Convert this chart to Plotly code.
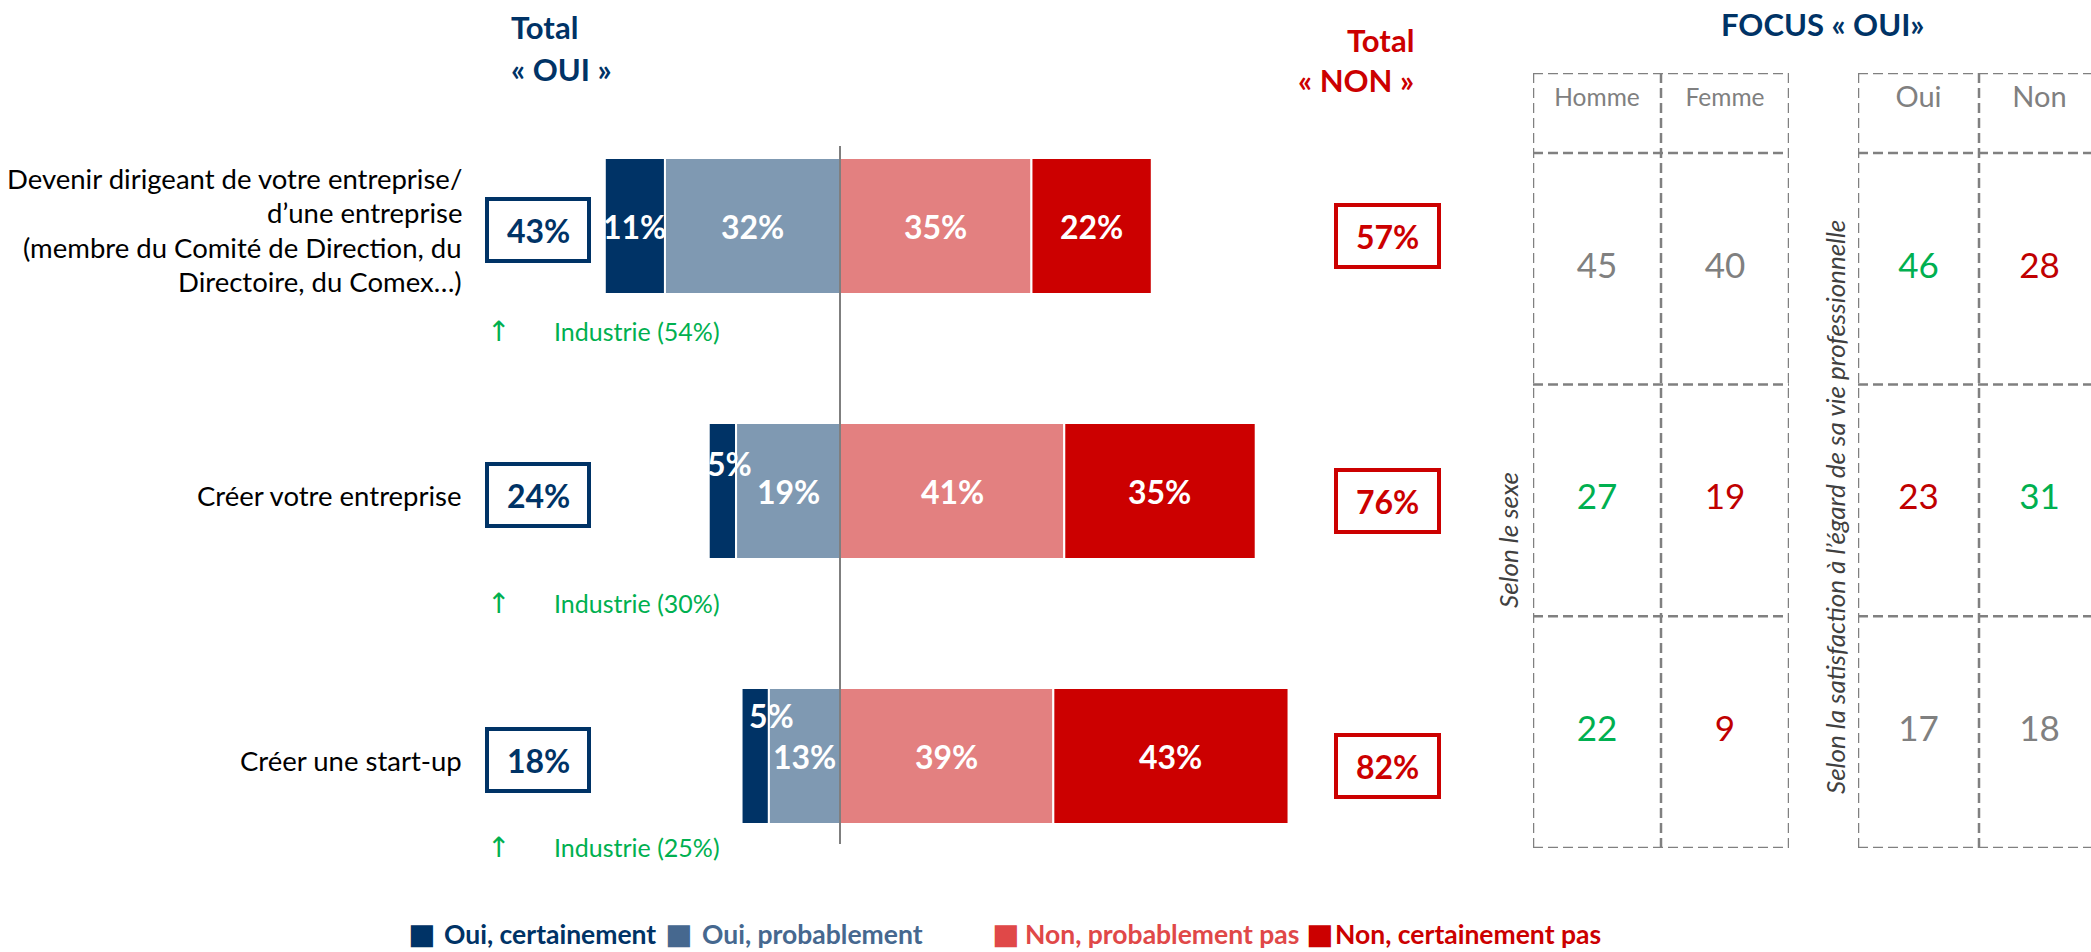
"""Diverging stacked bars (OUI / NON) with a FOCUS « OUI» side table."""

import plotly.graph_objects as go

# ---- data -----------------------------------------------------------------
ITEMS = [
    "Devenir dirigeant de votre entreprise/<br>d’une entreprise<br>"
    "(membre du Comité de Direction, du<br>Directoire, du Comex…)",
    "Créer votre entreprise",
    "Créer une start-up",
]
SERIES = ["Oui, certainement", "Oui, probablement",
          "Non, probablement pas", "Non, certainement pas"]
OUI_CERT = [11, 5, 5]
OUI_PROB = [32, 19, 13]
NON_PROB = [35, 41, 39]
NON_CERT = [22, 35, 43]
INDUSTRIE = [54, 30, 25]

SEXE_COLS = ["Homme", "Femme"]
SEXE_VALUES = [[45, 40], [27, 19], [22, 9]]
SEXE_SIG = [[0, 0], [1, -1], [1, -1]]          # +1 higher, -1 lower, 0 n.s.
SATIS_COLS = ["Oui", "Non"]
SATIS_VALUES = [[46, 28], [23, 31], [17, 18]]
SATIS_SIG = [[1, -1], [-1, 1], [0, 0]]

# ---- styling / layout constants ---------------------------------------------
W, H = 2091, 952
FONT = "Lato"
NAVY, GREYBLUE, PINK, RED = "#003366", "#7F99B2", "#E38080", "#CC0000"
LEG_COLORS = ["#003366", "#46688F", "#E04848", "#CC0000"]
GREEN, SIG_RED, GREY = "#00B050", "#C00000", "#808080"
SIG_COLOR = {1: GREEN, -1: SIG_RED, 0: GREY}

ZERO_PX, PX_PER_PCT = 840, 5.47
ROW0_PX, ROW_STEP = 226, 265
BAR_W = 136 / ROW_STEP


def px(xp):
    return xp / W


def py(yp):
    return 1 - yp / H


def row_y(i, dy_px=0):
    return i + dy_px / ROW_STEP


def pct_x(xp):
    return (xp - ZERO_PX) / PX_PER_PCT


def note(x, y, text, size, color, xanchor="center", family=FONT, **kw):
    """Paper-anchored annotation placed by pixel position."""
    return dict(x=px(x), y=py(y), xref="paper", yref="paper",
                xanchor=xanchor, yanchor="middle", text=text, showarrow=False,
                font={"family": family, "size": size, "color": color}, **kw)


rows = list(range(len(ITEMS)))
fig = go.Figure()

# Stacked diverging bars: OUI to the left of zero, NON to the right.
oui_tot = [c + p for c, p in zip(OUI_CERT, OUI_PROB)]
non_tot = [p + c for p, c in zip(NON_PROB, NON_CERT)]
segments = [
    (SERIES[0], NAVY, OUI_CERT, [-t for t in oui_tot]),
    (SERIES[1], GREYBLUE, OUI_PROB, [-p for p in OUI_PROB]),
    (SERIES[2], PINK, NON_PROB, [0] * len(rows)),
    (SERIES[3], RED, NON_CERT, NON_PROB),
]
for name, color, vals, base in segments:
    fig.add_trace(go.Bar(
        y=rows, x=vals, base=base, orientation="h", name=name, width=BAR_W,
        marker={"color": color, "line": {"color": "white", "width": 2}},
        hoverinfo="skip",
    ))

annotations = []
shapes = []

# Segment labels; the two thin "5%" segments get nudged up like the original.
nudge = {(0, 1): (7, 28), (0, 2): (16, 41)}
for s, (name, color, vals, base) in enumerate(segments):
    for i in rows:
        dx, dy = nudge.get((s, i), (0, 0))
        annotations.append(dict(
            x=base[i] + vals[i] / 2, y=i, xref="x", yref="y",
            xanchor="center", yanchor="middle",
            text=f"<b>{vals[i]}%</b>", showarrow=False, xshift=dx, yshift=dy,
            font={"family": FONT, "size": 32, "color": "white"},
        ))

# Zero line.
shapes.append(dict(type="line", xref="x", yref="y", x0=0, x1=0,
                   y0=row_y(0, -80), y1=row_y(2, 88),
                   line={"color": "#7F7F7F", "width": 2}))

# Total boxes.
for i in rows:
    for tot, color, (x0, x1), dy in (
        (oui_tot[i], NAVY, (487, 589), 4),
        (non_tot[i], RED, (1336, 1439), 10),
    ):
        shapes.append(dict(type="rect", xref="x", yref="y",
                           x0=pct_x(x0), x1=pct_x(x1),
                           y0=row_y(i, dy - 31), y1=row_y(i, dy + 31),
                           line={"color": color, "width": 4},
                           fillcolor="white"))
        annotations.append(dict(
            x=pct_x((x0 + x1) / 2), y=row_y(i, dy), xref="x", yref="y",
            xanchor="center", yanchor="middle",
            text=f"<b>{tot}%</b>", showarrow=False,
            font={"family": FONT, "size": 32, "color": color},
        ))

# Row labels, right-aligned, one annotation per line.
for i, label in enumerate(ITEMS):
    lines = label.split("<br>")
    for k, line in enumerate(lines):
        off = (k - (len(lines) - 1) / 2) * 34.5
        annotations.append(note(464, ROW0_PX + i * ROW_STEP + 4 + off, line,
                                27.5, "black", xanchor="right"))

# "Industrie" callouts under each bar.
INDUS_Y_PX = [331, 603, 847]
for i, v in enumerate(INDUSTRIE):
    annotations.append(note(498, INDUS_Y_PX[i], "↑", 28, GREEN,
                            family="DejaVu Sans"))
    annotations.append(note(552, INDUS_Y_PX[i], f"Industrie ({v}%)", 25,
                            GREEN, xanchor="left"))

# Column titles.
for text, x, y, anchor, color in (
    ("<b>Total</b>", 509, 27, "left", NAVY),
    ("<b>« OUI »</b>", 509, 69, "left", NAVY),
    ("<b>Total</b>", 1416, 40, "right", RED),
    ("<b>« NON »</b>", 1416, 80, "right", RED),
    ("<b>FOCUS « OUI»</b>", 1823, 24, "center", NAVY),
):
    annotations.append(note(x, y, text, 31, color, xanchor=anchor))

# ---- FOCUS tables -----------------------------------------------------------
HDR = 80 / 232
tbl_y_dom = [py(848), py(73)]
tables = [
    ("x2", "y2", SEXE_COLS, SEXE_VALUES, SEXE_SIG, 24.5, [px(1533), px(1789)], [0, 2]),
    ("x3", "y3", SATIS_COLS, SATIS_VALUES, SATIS_SIG, 29, [px(1858), 1],
     [0, (W - 1858) / 121]),
]
for n, (xa, ya, cols, vals, sig, hsize, xdom, xrange_) in enumerate(tables, start=2):
    fig.update_layout(**{
        f"xaxis{n}": dict(domain=xdom, range=xrange_, visible=False,
                          fixedrange=True, anchor=ya),
        f"yaxis{n}": dict(domain=tbl_y_dom, range=[3, -HDR], visible=False,
                          fixedrange=True, anchor=xa),
    })
    fig.add_trace(go.Scatter(
        x=[c + 0.5 for c in range(len(cols))], y=[-0.23] * len(cols),
        xaxis=xa, yaxis=ya, mode="text", text=cols, hoverinfo="skip",
        textfont={"family": FONT, "size": hsize, "color": GREY},
    ))
    fig.add_trace(go.Scatter(
        x=[c + 0.5 for r in vals for c in range(len(r))],
        y=[ri + 0.5 for ri, r in enumerate(vals) for _ in r],
        xaxis=xa, yaxis=ya, mode="text", hoverinfo="skip",
        text=[str(v) for r in vals for v in r],
        textfont={"family": FONT, "size": 35,
                  "color": [SIG_COLOR[s] for r in sig for s in r]},
    ))
    dash = {"color": "#808080", "width": 2.5, "dash": "10px,5px"}
    for c in range(len(cols) + 1):
        shapes.append(dict(type="line", xref=xa, yref=ya, x0=c, x1=c,
                           y0=-HDR, y1=len(vals), line=dash))
    for r in [-HDR] + list(range(len(vals) + 1)):
        shapes.append(dict(type="line", xref=xa, yref=ya, x0=0, x1=len(cols),
                           y0=r, y1=r, line=dash))

for text, x, y in (
    ("Selon le sexe", 1508, 540),
    ("Selon la satisfaction à l’égard de sa vie professionnelle", 1835, 507),
):
    annotations.append(note(x, y, f"<i>{text}</i>", 26, "#404040",
                            textangle=-90))

# ---- legend (hand-built so the spacing matches the slide) -------------------
LEG_SQ_PX = [421, 678, 1005, 1319]
LEG_TXT_PX = [442, 700, 1023, 1333]
for name, color, sx, tx in zip(SERIES, LEG_COLORS, LEG_SQ_PX, LEG_TXT_PX):
    annotations.append(note(sx, 934, "■", 29, color, family="DejaVu Sans"))
    annotations.append(note(tx, 934, f"<b>{name}</b>", 26.5, color,
                            xanchor="left"))

fig.update_layout(
    width=W, height=H, margin={"l": 0, "r": 0, "t": 0, "b": 0},
    paper_bgcolor="white", plot_bgcolor="rgba(0,0,0,0)",
    showlegend=False, barmode="overlay",
    xaxis=dict(domain=[0, 1], range=[pct_x(0), pct_x(W)], visible=False,
               fixedrange=True),
    yaxis=dict(domain=[0, 1], range=[(H - ROW0_PX) / ROW_STEP, -ROW0_PX / ROW_STEP],
               visible=False, fixedrange=True),
    shapes=shapes, annotations=annotations,
)

fig.write_html("out.html", config={"displayModeBar": False},
               post_script="document.body.style.margin = '0';")
